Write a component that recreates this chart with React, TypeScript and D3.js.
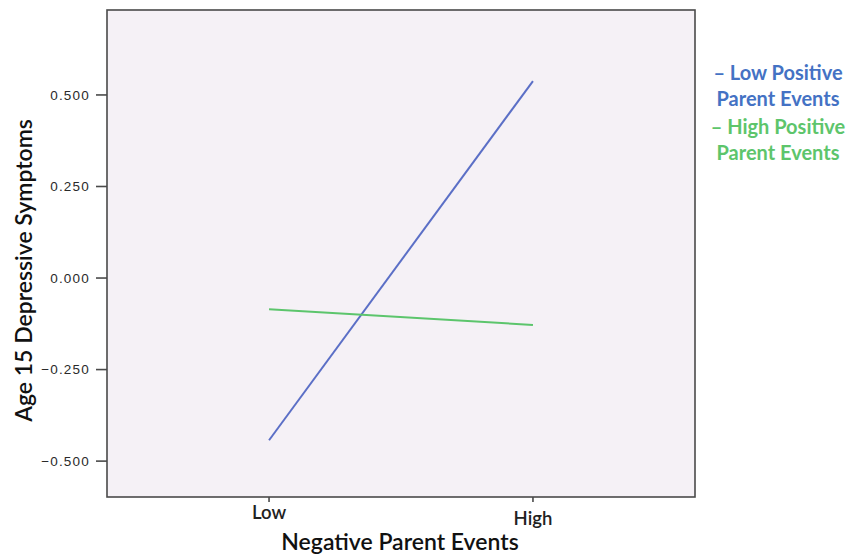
import React from "react";
import * as d3 from "d3";

const categories = ["Low", "High"];
const lowPositive = [-0.443, 0.538];
const highPositive = [-0.085, -0.128];
const yTicks = [-0.5, -0.25, 0, 0.25, 0.5];
const seriesNames = ["Low Positive Parent Events", "High Positive Parent Events"];

const width = 861;
const height = 554;
const left = 107, right = 695, top = 10, bottom = 497;

export default function App() {
  const x = d3.scalePoint<string>().domain(categories).range([left, right]).padding(0.614);
  const y = d3.scaleLinear().domain([-0.598, 0.732]).range([bottom, top]);

  const line = d3
    .line<number>()
    .x((_, i) => x(categories[i]) as number)
    .y((d) => y(d));

  const series = [
    { name: seriesNames[0], values: lowPositive, color: "#5b6fc6", text: "#4472c4" },
    { name: seriesNames[1], values: highPositive, color: "#5cc56c", text: "#5dc56b" },
  ];

  const fmt = d3.format(".3f");
  const titleFont = "Lato, 'Open Sans', sans-serif";

  return (
    <svg
      width={width}
      height={height}
      style={{ position: "absolute", left: 0, top: 0, background: "#fff" }}
    >
      <rect x={left} y={top} width={right - left} height={bottom - top} fill="#f5f1f6" />

      {series.map((s) => (
        <path key={s.name} d={line(s.values) || ""} fill="none" stroke={s.color} strokeWidth={2} />
      ))}

      <rect
        x={left}
        y={top}
        width={right - left}
        height={bottom - top}
        fill="none"
        stroke="#4a4a4a"
        strokeWidth={1.6}
      />

      {yTicks.map((t) => (
        <g key={t}>
          <line x1={96} x2={left} y1={y(t)} y2={y(t)} stroke="#4a4a4a" strokeWidth={1.6} />
          <text
            x={90}
            y={y(t)}
            dy="0.35em"
            textAnchor="end"
            fontFamily="'Liberation Sans', Arial, sans-serif"
            fontSize={13.5}
            letterSpacing={1.2}
            fill="#2a2a2a"
          >
            {fmt(t)}
          </text>
        </g>
      ))}

      {categories.map((c, i) => (
        <g key={c}>
          <line
            x1={x(c)}
            x2={x(c)}
            y1={bottom}
            y2={bottom + 5}
            stroke="#4a4a4a"
            strokeWidth={1.6}
          />
          <text
            x={x(c)}
            y={i === 0 ? 519 : 525}
            textAnchor="middle"
            fontFamily={titleFont}
            fontSize={18.5}
            fontWeight={600}
            fill="#222"
          >
            {c}
          </text>
        </g>
      ))}

      <text
        x={400}
        y={550}
        textAnchor="middle"
        fontFamily={titleFont}
        fontSize={23}
        fontWeight={600}
        fill="#111"
      >
        Negative Parent Events
      </text>

      <text
        transform={`translate(32,${(top + bottom) / 2 + 17}) rotate(-90)`}
        textAnchor="middle"
        fontFamily={titleFont}
        fontSize={23}
        fontWeight={600}
        fill="#111"
      >
        Age 15 Depressive Symptoms
      </text>

      {series.map((s, i) => {
        const words = s.name.split(" ");
        const l1 = "– " + words.slice(0, 2).join(" ");
        const l2 = words.slice(2).join(" ");
        return (
          <g key={s.name} fontFamily={titleFont} fontSize={20} fontWeight={700} fill={s.text} textAnchor="middle">
            <text x={778} y={80 + i * 54}>{l1}</text>
            <text x={778} y={106 + i * 54}>{l2}</text>
          </g>
        );
      })}
    </svg>
  );
}
